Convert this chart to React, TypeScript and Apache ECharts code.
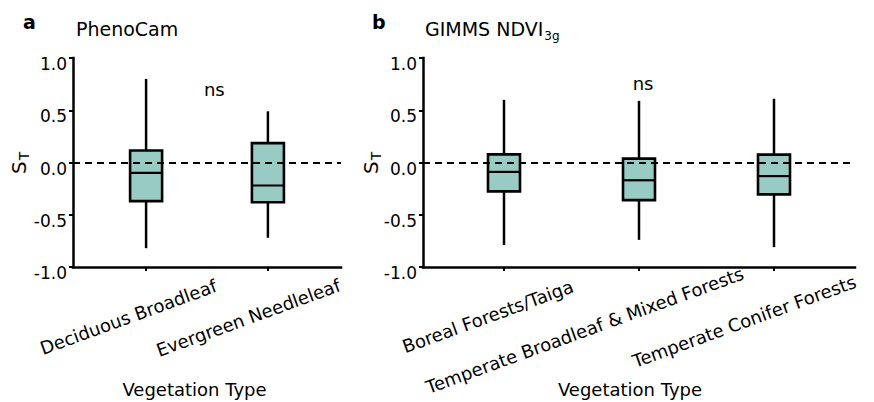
import React, { useEffect, useRef } from "react";
import * as echarts from "echarts";

// ---- data ----
const phenoCategories = ["Deciduous Broadleaf", "Evergreen Needleleaf"];
const phenoMin = [-0.82, -0.72];
const phenoQ1 = [-0.37, -0.38];
const phenoMedian = [-0.1, -0.22];
const phenoQ3 = [0.115, 0.185];
const phenoMax = [0.8, 0.49];

const gimmsCategories = [
  "Boreal Forests/Taiga",
  "Temperate Broadleaf & Mixed Forests",
  "Temperate Conifer Forests",
];
const gimmsMin = [-0.79, -0.74, -0.81];
const gimmsQ1 = [-0.276, -0.36, -0.305];
const gimmsMedian = [-0.09, -0.17, -0.13];
const gimmsQ3 = [0.078, 0.037, 0.075];
const gimmsMax = [0.6, 0.59, 0.61];

const yTicks = [-1.0, -0.5, 0.0, 0.5, 1.0];
const panelLetters = ["a", "b"];
const panelTitles = ["PhenoCam", "GIMMS NDVI"];
const panelTitleSub = ["", "3g"];
const xAxisTitle = "Vegetation Type";
const yAxisTitle = "S";
const yAxisTitleSub = "T";
const sigLabel = "ns";

const FONT = "DejaVu Sans";
const BOX_FILL = "#98cbc3";

function rows(mins: number[], q1: number[], med: number[], q3: number[], max: number[]) {
  return mins.map((_, i) => [i + 1, mins[i], q1[i], med[i], q3[i], max[i]]);
}

const renderBox = (params: any, api: any) => {
  const x = api.value(0);
  const pMin = api.coord([x, api.value(1)]);
  const pQ1 = api.coord([x, api.value(2)]);
  const pMed = api.coord([x, api.value(3)]);
  const pQ3 = api.coord([x, api.value(4)]);
  const pMax = api.coord([x, api.value(5)]);
  const hw = 16;
  return {
    type: "group",
    children: [
      {
        type: "line",
        shape: { x1: pMin[0], y1: pMin[1], x2: pMax[0], y2: pMax[1] },
        style: { stroke: "#000", lineWidth: 2.5 },
      },
      {
        type: "rect",
        shape: { x: pQ3[0] - hw, y: pQ3[1], width: hw * 2, height: pQ1[1] - pQ3[1] },
        style: { fill: BOX_FILL, stroke: "#000", lineWidth: 2.6 },
      },
      {
        type: "line",
        shape: { x1: pMed[0] - hw, y1: pMed[1], x2: pMed[0] + hw, y2: pMed[1] },
        style: { stroke: "#000", lineWidth: 2.2 },
      },
    ],
  };
};

function makeXAxis(gridIndex: number, n: number) {
  return {
    type: "value",
    gridIndex,
    min: 0.4,
    max: n + 0.6,
    axisLine: {
      show: true,
      onZero: false,
      lineStyle: { color: "#000", width: 2.5, cap: "square" },
    },
    axisTick: {
      show: true,
      customValues: Array.from({ length: n }, (_, i) => i + 1),
      length: 4,
      lineStyle: { color: "#000", width: 2 },
    },
    axisLabel: { show: false },
    splitLine: { show: false },
  };
}

function makeYAxis(gridIndex: number) {
  return {
    type: "value",
    gridIndex,
    min: yTicks[0],
    max: yTicks[yTicks.length - 1],
    interval: 0.5,
    axisLine: {
      show: true,
      onZero: false,
      lineStyle: { color: "#000", width: 2.5, cap: "square" },
    },
    axisTick: { show: true, length: 4, lineStyle: { color: "#000", width: 2 } },
    axisLabel: {
      color: "#000",
      fontSize: 17,
      fontFamily: FONT,
      margin: 6,
      verticalAlign: "top",
      lineHeight: 12,
      formatter: (v: number) => v.toFixed(1),
    },
    splitLine: { show: false },
  };
}

const zeroLine = {
  silent: true,
  symbol: ["none", "none"],
  label: { show: false },
  lineStyle: { color: "#000", width: 2, type: [7, 5] },
  data: [{ yAxis: 0 }],
};

export default function App() {
  const ref = useRef<HTMLDivElement>(null);
  useEffect(() => {
    if (!ref.current) return;
    const chart = echarts.init(ref.current, null, { renderer: "svg" });
    const option: any = {
      animation: false,
      grid: [
        { left: 73, right: 533, top: 58, bottom: 135 },
        { left: 423, right: 19, top: 58, bottom: 135 },
      ],
      xAxis: [makeXAxis(0, phenoCategories.length), makeXAxis(1, gimmsCategories.length)],
      yAxis: [makeYAxis(0), makeYAxis(1)],
      series: [
        {
          type: "custom",
          xAxisIndex: 0,
          yAxisIndex: 0,
          renderItem: renderBox,
          encode: { x: 0, y: [1, 2, 3, 4, 5] },
          data: rows(phenoMin, phenoQ1, phenoMedian, phenoQ3, phenoMax),
          clip: false,
          markLine: zeroLine,
        },
        {
          type: "custom",
          xAxisIndex: 1,
          yAxisIndex: 1,
          renderItem: renderBox,
          encode: { x: 0, y: [1, 2, 3, 4, 5] },
          data: rows(gimmsMin, gimmsQ1, gimmsMedian, gimmsQ3, gimmsMax),
          clip: false,
          markLine: zeroLine,
        },
      ],
    };
    chart.setOption(option);

    const canvas = document.createElement("canvas");
    const ctx = canvas.getContext("2d")!;
    const measure = (t: string, size: number, weight = "normal") => {
      ctx.font = `${weight} ${size}px "${FONT}"`;
      return ctx.measureText(t).width;
    };

    const ANGLE = (20 * Math.PI) / 180;
    const graphics: any[] = [];
    const txt = (text: string, x: number, y: number, size: number, extra: any = {}, rotation = 0) => ({
      type: "text",
      x,
      y,
      rotation,
      silent: true,
      style: {
        text,
        fill: "#000",
        fontSize: size,
        fontFamily: FONT,
        align: "left",
        verticalAlign: "middle",
        ...extra,
      },
    });

    const cats = [phenoCategories, gimmsCategories];
    cats.forEach((list, g) => {
      list.forEach((c, i) => {
        const p = chart.convertToPixel({ gridIndex: g }, [i + 1, yTicks[0]]) as number[];
        const L = measure(c, 18);
        graphics.push({
          type: "text",
          x: p[0] + 30,
          y: p[1] + 39,
          rotation: ANGLE,
          silent: true,
          style: {
            text: c,
            x: -0.76 * L,
            y: -6,
            fill: "#000",
            fontSize: 18,
            fontFamily: FONT,
            align: "left",
            verticalAlign: "middle",
          },
        });
      });
    });

    // x-axis titles
    graphics.push(txt(xAxisTitle, 194.5, 389, 18, { align: "center" }));
    graphics.push(txt(xAxisTitle, 630, 389, 18, { align: "center" }));

    // y-axis titles (rotated S with subscript T)
    [18.5, 371].forEach((gx) => {
      const sW = measure(yAxisTitle, 20);
      const gy = 174;
      graphics.push(txt(yAxisTitle, gx, gy, 20, {}, Math.PI / 2));
      graphics.push(txt(yAxisTitleSub, gx + 5, gy - sW - 1, 14, {}, Math.PI / 2));
    });

    // panel letters and titles
    const letterX = [23, 372];
    const titleX = [76, 425];
    panelLetters.forEach((l, k) => {
      graphics.push(txt(l, letterX[k], 22, 19, { fontWeight: "bold" }));
      graphics.push(txt(panelTitles[k], titleX[k], 28.5, 19));
      if (panelTitleSub[k]) {
        const w = measure(panelTitles[k], 19);
        graphics.push(txt(panelTitleSub[k], titleX[k] + w + 1, 36, 12));
      }
    });

    // significance labels
    const nsPos = [
      [1.56, 0.7],
      [2.03, 0.76],
    ];
    nsPos.forEach((v, g) => {
      const p = chart.convertToPixel({ gridIndex: g }, v) as number[];
      graphics.push(txt(sigLabel, p[0], p[1], 18, { align: "center" }));
    });

    chart.setOption({ graphic: graphics });
    return () => chart.dispose();
  }, []);

  return (
    <div
      ref={ref}
      style={{ position: "fixed", left: 0, top: 0, width: 874, height: 402, background: "#fff" }}
    />
  );
}
